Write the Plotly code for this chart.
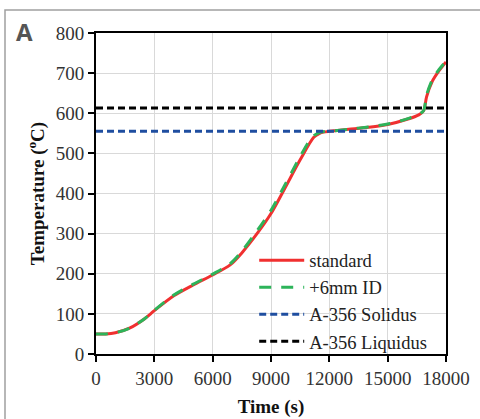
import plotly.graph_objects as go

time_std = [0, 500, 1000, 1750, 2500, 3000, 4000, 5000, 6000, 6900, 7500, 8300, 9000, 9700, 10500, 11200, 11500, 11700, 12000, 13000, 14000, 15000, 16000, 16600, 16850, 17000, 17300, 17600, 18000]
temp_std = [50, 50, 53, 65, 88, 108, 145, 172, 197, 222, 252, 301, 350, 412, 484, 540, 550, 553, 555, 560, 565, 572, 585, 596, 606, 641, 680, 703, 728]

time_id = [0, 500, 1000, 1750, 2500, 3000, 4000, 5000, 6000, 6900, 7500, 8300, 9000, 9700, 10500, 11100, 11400, 11650, 12000, 13000, 14000, 15000, 16000, 16600, 16850, 17000, 17300, 17600, 18000]
temp_id = [50, 50, 53, 65, 88, 109, 147, 174, 199, 225, 256, 308, 358, 420, 492, 540, 550, 554, 555, 560, 566, 573, 586, 597, 607, 645, 684, 706, 730]

solidus = 555
liquidus = 613
x_ticks = [0, 3000, 6000, 9000, 12000, 15000, 18000]
x_tick_labels = ["0", "3000", "6000", "9000", "12000", "15000", "18000"]
y_ticks = [0, 100, 200, 300, 400, 500, 600, 700, 800]
y_tick_labels = ["0", "100", "200", "300", "400", "500", "600", "700", "800"]

fig = go.Figure()
fig.add_trace(go.Scatter(x=time_std, y=temp_std, mode="lines", name="standard",
                         line=dict(color="#f03030", width=3, shape="spline", smoothing=0.8)))
fig.add_trace(go.Scatter(x=time_id, y=temp_id, mode="lines", name="+6mm ID",
                         line=dict(color="#2db45a", width=3, dash="12px,10px", shape="spline", smoothing=0.8)))
fig.add_trace(go.Scatter(x=[0, 18000], y=[solidus, solidus], mode="lines", name="A-356 Solidus",
                         line=dict(color="#1f4ea0", width=3, dash="7px,4px")))
fig.add_trace(go.Scatter(x=[0, 18000], y=[liquidus, liquidus], mode="lines", name="A-356 Liquidus",
                         line=dict(color="#000000", width=3, dash="7px,4px")))

serif = "Liberation Serif, Times New Roman, serif"
fig.update_layout(
    width=480, height=419,
    margin=dict(l=96, r=34, t=33, b=65),
    paper_bgcolor="white", plot_bgcolor="white",
    font=dict(family=serif, size=19, color="#333333"),
    showlegend=True,
    legend=dict(x=0.452, y=0.35, xanchor="left", yanchor="top", bgcolor="rgba(0,0,0,0)",
                font=dict(family=serif, size=18.5, color="#222222"),
                tracegroupgap=0, itemwidth=45),
    xaxis=dict(range=[0, 18000], tickvals=x_ticks, ticktext=x_tick_labels, automargin=False,
               tickfont=dict(family=serif, size=19, color="#333333"),
               showgrid=True, gridcolor="#d9d9d9", gridwidth=1,
               showline=True, linecolor="black", linewidth=2, mirror=True,
               ticks="outside", ticklen=6, tickwidth=2, tickcolor="black", zeroline=False,
               title=dict(text="<b>Time (s)</b>", font=dict(family=serif, size=19, color="#111111"), standoff=12)),
    yaxis=dict(range=[0, 800], tickvals=y_ticks, ticktext=y_tick_labels, automargin=False,
               tickfont=dict(family=serif, size=19, color="#333333"),
               showgrid=True, gridcolor="#d9d9d9", gridwidth=1,
               showline=True, linecolor="black", linewidth=2, mirror=True,
               ticks="outside", ticklen=6, tickwidth=2, tickcolor="black", zeroline=False,
               title=dict(text="<b>Temperature (<sup>o</sup>C)</b>", font=dict(family=serif, size=19, color="#111111"), standoff=6)),
)
# white background behind the legend (above gridlines, below traces)
fig.add_shape(type="rect", xref="paper", yref="paper", x0=0.463, x1=1.0, y0=0.006, y1=0.335,
              line=dict(width=0), fillcolor="white", layer="between")
fig.add_shape(type="rect", xref="paper", yref="paper", x0=-0.26, x1=1.4, y0=-0.5, y1=1.072,
              line=dict(color="#a0a0a0", width=1.5), fillcolor="rgba(0,0,0,0)", layer="below")
fig.add_annotation(text="<b>A</b>", xref="paper", yref="paper", x=-0.203, y=1.005,
                   xanchor="center", yanchor="middle", showarrow=False,
                   font=dict(family="Open Sans, sans-serif", size=24, color="#555555"))
fig.write_html("out.html")
